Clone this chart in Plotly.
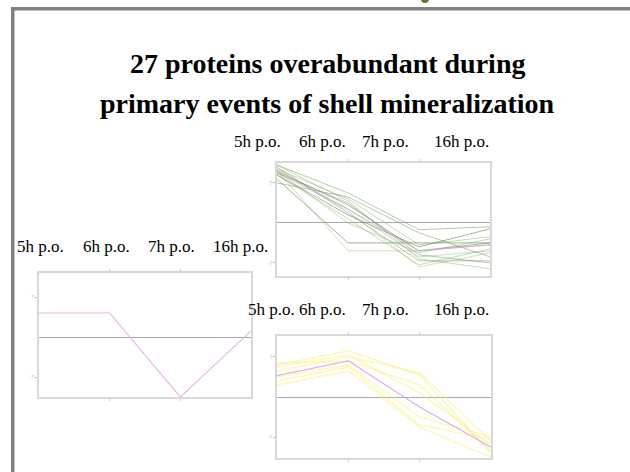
import plotly.graph_objects as go

W, H = 630, 472

# Time points (sampling hours post-ovulation)
timepoints = ["5h p.o.", "6h p.o.", "7h p.o.", "16h p.o."]

# Cluster A: proteins decreasing after 5h (green profiles + cluster mean)
cluster_a_lines = [
    [1.45, 0.75, -0.17, -0.10],
    [1.35, 0.60, -0.55, -0.35],
    [1.30, 0.45, -0.70, -0.50],
    [1.25, 0.35, -0.85, -0.70],
    [1.40, 0.25, -0.95, -0.95],
    [1.20, 0.10, -1.05, -0.65],
    [1.10, -0.50, -0.50, -0.50],
    [1.30, -0.70, -0.70, -0.55],
    [1.00, 0.65, -0.25, -0.85],
    [1.45, 0.55, -0.90, -1.15],
    [1.20, 0.20, -0.60, -0.15],
    [1.35, 0.30, -1.10, -0.75],
    [1.25, 0.50, -0.80, -1.00],
    [1.30, 0.00, -0.75, -0.40],
]
cluster_a_mean = [1.30, 0.35, -0.70, -0.55]

# Cluster B: single protein, drop at 7h
cluster_b_mean = [0.60, 0.60, -1.50, 0.15]

# Cluster C: proteins peaking at 6h then decreasing (yellow profiles + mean)
cluster_c_lines = [
    [0.80, 1.15, 0.55, -1.40],
    [0.65, 1.00, 0.60, -1.10],
    [0.40, 0.75, -0.70, -1.05],
    [0.30, 0.65, -0.75, -1.50],
    [0.75, 1.05, 0.10, -1.20],
    [0.50, 0.80, -0.50, -1.00],
    [0.85, 0.90, 0.30, -1.35],
]
cluster_c_mean = [0.53, 0.90, -0.25, -1.25]

greens = ["rgba(90,140,60,0.45)", "rgba(130,170,100,0.45)", "rgba(70,115,45,0.5)",
          "rgba(150,185,120,0.45)"]
yellow = "rgba(252,240,130,0.5)"
pink = "rgba(220,160,225,0.85)"
serif = "Times New Roman, Liberation Serif, serif"


def px_x(v):
    return v / W


def px_y(v):
    return 1 - v / H


x_idx = list(range(len(timepoints)))

fig = go.Figure()

for i, ys in enumerate(cluster_a_lines):
    fig.add_trace(go.Scatter(x=x_idx, y=ys, mode="lines", xaxis="x", yaxis="y",
                             line=dict(color=greens[i % len(greens)], width=1),
                             showlegend=False, hoverinfo="skip"))
fig.add_trace(go.Scatter(x=x_idx, y=cluster_a_mean, mode="lines", xaxis="x", yaxis="y",
                         line=dict(color=pink, width=1), showlegend=False))

fig.add_trace(go.Scatter(x=x_idx, y=cluster_b_mean, mode="lines", xaxis="x2", yaxis="y2",
                         line=dict(color="rgba(235,175,230,0.9)", width=1.2),
                         showlegend=False))

for ys in cluster_c_lines:
    fig.add_trace(go.Scatter(x=x_idx, y=ys, mode="lines", xaxis="x3", yaxis="y3",
                             line=dict(color=yellow, width=1.5),
                             showlegend=False, hoverinfo="skip"))
fig.add_trace(go.Scatter(x=x_idx, y=cluster_c_mean, mode="lines", xaxis="x3", yaxis="y3",
                         line=dict(color=pink, width=1.2), showlegend=False))


def xaxis(dom, anchor):
    return dict(domain=dom, anchor=anchor, range=[0, 3], tickvals=[1, 2],
                showticklabels=False, ticks="outside", ticklen=2, tickcolor="#cccccc",
                showgrid=False, zeroline=False, showline=True, linecolor="#d8d8d8",
                linewidth=1.5, mirror="ticks", fixedrange=True)


def yaxis(dom, anchor, rng):
    return dict(domain=dom, anchor=anchor, range=rng, tickvals=[1, -1],
                ticktext=["1", "-1"], ticks="outside", ticklen=2, tickcolor="#bbbbbb",
                tickfont=dict(size=5, color="#aaaaaa"), showgrid=False,
                zeroline=True, zerolinecolor="#a8a8a8", zerolinewidth=1.2,
                showline=True, linecolor="#d8d8d8", linewidth=1.5, mirror=True,
                fixedrange=True)


# panel boxes in pixels: (left, top, right, bottom)
box_a = (277, 163, 490, 276)
box_b = (39, 273, 251, 397)
box_c = (277, 336, 491, 458)

fig.update_layout(
    width=W, height=H, margin=dict(l=0, r=0, t=0, b=0),
    paper_bgcolor="white", plot_bgcolor="white",
    xaxis=xaxis([px_x(box_a[0]), px_x(box_a[2])], "y"),
    yaxis=yaxis([px_y(box_a[3]), px_y(box_a[1])], "x", [-1.33, 1.5]),
    xaxis2=xaxis([px_x(box_b[0]), px_x(box_b[2])], "y2"),
    yaxis2=yaxis([px_y(box_b[3]), px_y(box_b[1])], "x2", [-1.5, 1.6]),
    xaxis3=xaxis([px_x(box_c[0]), px_x(box_c[2])], "y3"),
    yaxis3=yaxis([px_y(box_c[3]), px_y(box_c[1])], "x3", [-1.52, 1.52]),
)

# slide frame
shapes = [
    dict(type="rect", xref="paper", yref="paper", x0=px_x(11), x1=px_x(14.5),
         y0=px_y(472), y1=px_y(7), fillcolor="#828282", line=dict(width=0), layer="below"),
    dict(type="rect", xref="paper", yref="paper", x0=px_x(11), x1=1,
         y0=px_y(10.5), y1=px_y(7), fillcolor="#828282", line=dict(width=0), layer="below"),
    dict(type="circle", xref="paper", yref="paper", x0=px_x(421), x1=px_x(429),
         y0=px_y(3), y1=px_y(-5), fillcolor="#5b7a2b", line=dict(width=0), layer="below"),
]
fig.update_layout(shapes=shapes)

annotations = []
title_lines = [("27 proteins overabundant during", 64),
               ("primary events of shell mineralization", 104)]
for txt, yc in title_lines:
    annotations.append(dict(text="<b>" + txt + "</b>", xref="paper", yref="paper",
                            x=px_x(327), y=px_y(yc), xanchor="center", yanchor="middle",
                            showarrow=False, font=dict(family=serif, size=28, color="black")))

label_rows = [
    ([257, 322, 385, 462], 141),
    ([40, 106, 172, 240], 246),
    ([271, 322, 385, 462], 309),
]
for xs, yc in label_rows:
    for t, xc in zip(timepoints, xs):
        annotations.append(dict(text=t, xref="paper", yref="paper", x=px_x(xc), y=px_y(yc),
                                xanchor="center", yanchor="middle", showarrow=False,
                                font=dict(family=serif, size=17, color="black")))
fig.update_layout(annotations=annotations)

fig.write_html("out.html")
